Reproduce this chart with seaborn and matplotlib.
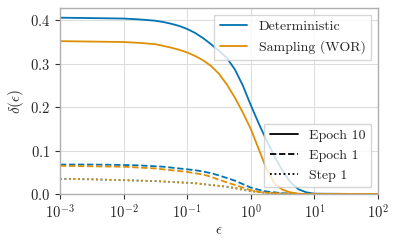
import matplotlib
matplotlib.use("Agg")
import matplotlib.pyplot as plt
import seaborn as sns
import pandas as pd
from matplotlib.lines import Line2D
from matplotlib.ticker import NullLocator

# epsilon grid the values were read at
eps = [1e-3, 3.16e-3, 1e-2, 0.0178, 0.0316, 0.0422, 0.0562, 0.0750, 0.1, 0.133,
       0.178, 0.237, 0.316, 0.422, 0.562, 0.750, 1.0, 1.33, 1.78, 2.37,
       3.16, 4.22, 5.62, 7.50, 10.0, 100.0]

# delta(eps) per method / stage
det_epoch10 = [0.406, 0.405, 0.404, 0.402, 0.399, 0.396, 0.392, 0.387, 0.380, 0.371,
               0.359, 0.345, 0.330, 0.313, 0.287, 0.250, 0.205, 0.163, 0.123, 0.086,
               0.054, 0.027, 0.011, 0.004, 0.001, 0.0]
wor_epoch10 = [0.352, 0.351, 0.350, 0.348, 0.345, 0.341, 0.337, 0.332, 0.326, 0.318,
               0.308, 0.295, 0.277, 0.252, 0.222, 0.188, 0.150, 0.104, 0.057, 0.024,
               0.010, 0.004, 0.001, 0.0, 0.0, 0.0]
det_epoch1 = [0.068, 0.068, 0.067, 0.066, 0.064, 0.063, 0.061, 0.059, 0.057, 0.055,
              0.052, 0.048, 0.043, 0.037, 0.031, 0.023, 0.015, 0.010, 0.006, 0.004,
              0.002, 0.001, 0.0005, 0.0, 0.0, 0.0]
wor_epoch1 = [0.065, 0.064, 0.063, 0.061, 0.059, 0.057, 0.055, 0.053, 0.051, 0.048,
              0.045, 0.040, 0.033, 0.027, 0.021, 0.015, 0.009, 0.005, 0.003, 0.002,
              0.001, 0.0005, 0.0, 0.0, 0.0, 0.0]
step1 = [0.035, 0.034, 0.032, 0.031, 0.030, 0.029, 0.028, 0.027, 0.026, 0.025,
         0.023, 0.021, 0.019, 0.017, 0.014, 0.010, 0.007, 0.005, 0.003, 0.002,
         0.001, 0.0005, 0.0, 0.0, 0.0, 0.0]

methods = ["Deterministic", "Sampling (WOR)"]
stages = ["Epoch 10", "Epoch 1", "Step 1"]

rows = []
for method, stage, vals in [
    ("Deterministic", "Epoch 10", det_epoch10),
    ("Sampling (WOR)", "Epoch 10", wor_epoch10),
    ("Deterministic", "Epoch 1", det_epoch1),
    ("Sampling (WOR)", "Epoch 1", wor_epoch1),
    ("Deterministic", "Step 1", step1),
    ("Sampling (WOR)", "Step 1", step1),
]:
    for e, v in zip(eps, vals):
        rows.append({"eps": e, "delta": v, "method": method, "stage": stage})
df = pd.DataFrame(rows)

sns.set_style("whitegrid")
plt.rcParams["font.family"] = "serif"
plt.rcParams["font.serif"] = ["cmr10", "DejaVu Serif"]
plt.rcParams["mathtext.fontset"] = "cm"
plt.rcParams["axes.formatter.use_mathtext"] = True
plt.rcParams["axes.unicode_minus"] = False

palette = dict(zip(methods, ["#0173b2", "#de8f05"]))
dashes = {"Epoch 10": "", "Epoch 1": (3.5, 1.5), "Step 1": (1, 1.5)}

fig = plt.figure(figsize=(3.97, 2.46), dpi=100)
ax = fig.add_axes([0.151, 0.211, 0.801, 0.756])

sns.lineplot(data=df, x="eps", y="delta", hue="method", style="stage",
             hue_order=methods, style_order=stages, palette=palette,
             dashes=dashes, linewidth=1.3, ax=ax, legend=False)

ax.set_xscale("log")
ax.set_xlim(1e-3, 1e2)
ax.set_ylim(0, 0.428)
ax.set_yticks([0.0, 0.1, 0.2, 0.3, 0.4])
ax.xaxis.set_minor_locator(NullLocator())
ax.set_xlabel(r"$\epsilon$", fontsize=11, labelpad=1)
ax.set_ylabel(r"$\delta(\epsilon)$", fontsize=11, labelpad=3)

ax.grid(True, color="#dddddd", linewidth=0.8)
for sp in ax.spines.values():
    sp.set_color("#b0b0b0")
    sp.set_linewidth(1.0)
ax.tick_params(axis="both", which="major", direction="out", length=3.5,
               width=0.8, color="#333333", labelsize=10.5, left=True, bottom=True)

h1 = [Line2D([], [], color=palette[m], lw=1.3) for m in methods]
leg1 = ax.legend(h1, methods, loc="upper right", fontsize=10, fancybox=False,
                 edgecolor="#cccccc", framealpha=0.8)
ax.add_artist(leg1)
h2 = [Line2D([], [], color="black", lw=1.3, linestyle=ls)
      for ls in ["-", (0, (3.5, 1.5)), (0, (1, 1.5))]]
ax.legend(h2, stages, loc="lower right", fontsize=10, fancybox=False,
          edgecolor="#cccccc", framealpha=0.8)

fig.savefig("out.png", dpi=100)
